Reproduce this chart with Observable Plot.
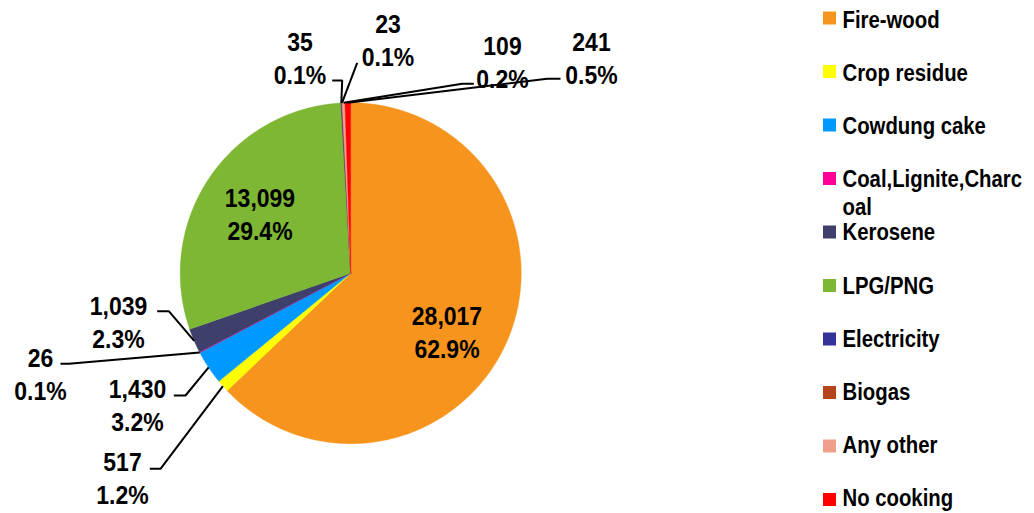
<!DOCTYPE html>
<html><head><meta charset="utf-8">
<script src="https://cdn.jsdelivr.net/npm/d3@7"></script>
<script src="https://cdn.jsdelivr.net/npm/@observablehq/plot@0.6"></script>
<style>html,body{margin:0;padding:0;background:#fff}svg{display:block}</style>
</head><body><div id="chart"></div>
<script>
// ---- data ----
const categories = ["Fire-wood","Crop residue","Cowdung cake","Coal,Lignite,Charcoal","Kerosene","LPG/PNG","Electricity","Biogas","Any other","No cooking"];
const households = [28017,517,1430,26,1039,13099,35,23,109,241];
const colors = ["#F7941D","#FFFF00","#0099FF","#FF0099","#3F3F6B","#7DB733","#333399","#B5441A","#F0A08A","#FF0000"];

// ---- layout ----
const W = 1034, H = 513, cx = 350.2, cy = 272.7, R = 170.5;
const FONT = "'Liberation Sans',Arial,sans-serif";
// label placement: block centre and leader path (text side -> elbow); rim point is computed
const placement = {
  "Fire-wood":             {tx:446.5, ty:330.5, path:null},
  "LPG/PNG":               {tx:259.5, ty:212,   path:null},
  "Crop residue":          {tx:122,   ty:476.7, path:[[149.3,468.3],[160,468.3]]},
  "Cowdung cake":          {tx:137,   ty:403.3, path:[[173.3,395],[185,395]]},
  "Coal,Lignite,Charcoal": {tx:40,    ty:372,   path:[[60,363.3],[68.3,363.3]]},
  "Kerosene":              {tx:118,   ty:320,   path:[[156.7,310.7],[168.3,310.7]]},
  "Electricity":           {tx:299.5, ty:56.5,  path:[[331.7,80],[341.7,80]]},
  "Biogas":                {tx:387.5, ty:38.5,  path:[[356.7,62.3]]},
  "Any other":             {tx:502,   ty:60,    path:[[473.3,83.3],[461.7,83.3]]},
  "No cooking":            {tx:591,   ty:56,    path:[[560,78.3],[546.7,78.3]]}
};

const total = d3.sum(households);
const arcs = d3.pie().sort(null).value(d => d.value)(
  categories.map((c, i) => ({category: c, value: households[i]})));
const pt = (a, r) => [cx + r * Math.sin(a), cy - r * Math.cos(a)];

// slice polygons
const slicePts = [];
arcs.forEach(s => {
  const c = s.data.category;
  const n = Math.max(2, Math.ceil((s.endAngle - s.startAngle) / (Math.PI / 360)));
  slicePts.push({category: c, x: cx, y: cy});
  for (let k = 0; k <= n; k++) {
    const [x, y] = pt(s.startAngle + (s.endAngle - s.startAngle) * k / n, R);
    slicePts.push({category: c, x, y});
  }
  slicePts.push({category: c, x: cx, y: cy});
});

const fmt = d3.format(",");
const labelText = d => `${fmt(d.value)}\n${(d.value / total * 100).toFixed(1)}%`;

const labels = [];
const leaders = [];
arcs.forEach(s => {
  const c = s.data.category, mid = (s.startAngle + s.endAngle) / 2;
  const o = placement[c];
  if (!o) return;
  labels.push({x: o.tx, y: o.ty, text: labelText(s.data)});
  if (o.path) {
    o.path.forEach(([x, y]) => leaders.push({category: c, x, y}));
    const [rx, ry] = pt(mid, R);
    leaders.push({category: c, x: rx, y: ry});
  }
});

// legend
const swatchRow = i => 18 + i * 53.5;
const textRow = i => 18 + i * 53.2;
const wrap = t => t.length > 18 ? t.slice(0, 18) + "\n" + t.slice(18) : t;
const legend = categories.map((c, i) => ({category: c, sy: swatchRow(i), ty: textRow(i), text: wrap(c)}));

const chart = Plot.plot({
  width: W, height: H, margin: 0,
  x: {type: "identity", axis: null},
  y: {type: "identity", axis: null},
  color: {domain: categories, range: colors},
  style: {fontFamily: FONT, background: "#fff"},
  marks: [
    Plot.line(slicePts, {x: "x", y: "y", z: "category", fill: "category", stroke: "category", strokeWidth: 0.4, curve: "linear"}),
    Plot.line(leaders, {x: "x", y: "y", z: "category", stroke: "#000", strokeWidth: 2, strokeLinecap: "butt", strokeLinejoin: "miter", curve: "linear"}),
    Plot.text(labels, {x: "x", y: "y", text: "text", fontSize: 25, fontWeight: "bold", lineHeight: 1.32, textAnchor: "middle", lineAnchor: "middle", fill: "#000", className: "pie-label"}),
    Plot.rect(legend, {x1: () => 823, x2: () => 836, y1: d => d.sy - 6.5, y2: d => d.sy + 6.5, fill: "category"}),
    Plot.text(legend, {x: () => 842, y: d => d.ty - 10.5, text: "text", fontSize: 24.5, fontWeight: "bold", lineHeight: 1.13, textAnchor: "start", lineAnchor: "top", fill: "#000", className: "legend-label"})
  ]
});
// condensed look of the original typeface (narrow bold)
const condense = (sel, k) => d3.select(chart).selectAll(sel).each(function() {
  const t = this.getAttribute("transform") || "";
  this.setAttribute("transform", `${t} scale(${k},1)`);
});
condense(".pie-label text", 0.92);
condense(".legend-label text", 0.83);
document.getElementById("chart").appendChild(chart);
</script>
</body></html>
